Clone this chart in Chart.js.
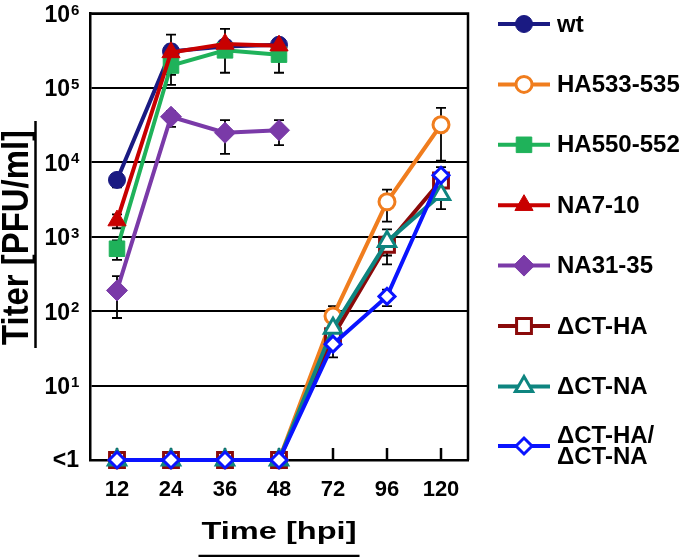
<!DOCTYPE html>
<html>
<head>
<meta charset="utf-8">
<script src="https://cdn.jsdelivr.net/npm/chart.js@4.4.1/dist/chart.umd.min.js"></script>
<style>
  html, body { margin: 0; padding: 0; background: #fff; }
  #wrap { width: 680px; height: 557px; }
</style>
</head>
<body>
<div id="wrap"><canvas id="titer"></canvas></div>
<script>
// Time points (hpi), shown as evenly spaced categories
const hours = ['12', '24', '36', '48', '72', '96', '120'];

// y ticks: "<1" is plotted at 1
const yTickValues = [1, 10, 100, 1000, 10000, 100000, 1000000];
const yTickLabels = [['<1', ''], ['10', '1'], ['10', '2'], ['10', '3'], ['10', '4'], ['10', '5'], ['10', '6']];

const seriesNames = ['wt', 'HA533-535', 'HA550-552', 'NA7-10', 'NA31-35', 'ΔCT-HA', 'ΔCT-NA', 'ΔCT-HA/\nΔCT-NA'];

// Titers (PFU/ml)
const wt      = [5800, 310000, 360000, 380000, null, null, null];
const ha533   = [1, 1, 1, 1, 86, 2950, 32000];
const ha550   = [690, 200000, 320000, 280000, null, null, null];
const na7     = [1650, 300000, 390000, 370000, null, null, null];
const na31    = [190, 41000, 25000, 27000, null, null, null];
const ctHA    = [1, 1, 1, 1, 46, 780, 5700];
const ctNA    = [1, 1, 1, 1, 59, 860, 3700];
const ctHANA  = [1, 1, 1, 1, 36, 158, 6700];

// Error bar ends (upper / lower), null = no bar
const wtHi     = [7000, 520000, 440000, 430000, null, null, null];
const wtLo     = [4600, 110000, 280000, 330000, null, null, null];
const ha533Hi  = [null, null, null, null, 117, 4300, 54000];
const ha533Lo  = [null, null, null, null, 55, 1600, 10500];
const ha550Hi  = [890, 260000, 380000, 330000, null, null, null];
const ha550Lo  = [490, 150000, 260000, 160000, null, null, null];
const na7Hi    = [2000, 380000, 620000, 420000, null, null, null];
const na7Lo    = [1300, 220000, 160000, 320000, null, null, null];
const na31Hi   = [295, 49000, 37000, 37000, null, null, null];
const na31Lo   = [81, 30000, 13000, 17000, null, null, null];
const ctHAHi   = [null, null, null, null, 60, 1000, 6700];
const ctHALo   = [null, null, null, null, 35, 560, 4700];
const ctNAHi   = [null, null, null, null, 75, 1260, 5000];
const ctNALo   = [null, null, null, null, 45, 425, 2350];
const ctHANAHi = [null, null, null, null, 48, 195, 8600];
const ctHANALo = [null, null, null, null, 24, 117, 4800];

const FONT = "'Liberation Sans', Arial, sans-serif";

const styles = [
  { color: '#1a1a82', fill: '#1a1a82', point: 'circle', r: 8.5, bw: 1 },
  { color: '#f07d1e', fill: '#ffffff', point: 'circle', r: 8, bw: 3 },
  { color: '#1fb25a', fill: '#1fb25a', point: 'rect', r: 11, bw: 1 },
  { color: '#c80000', fill: '#c80000', point: 'triangle', r: 10.5, bw: 1 },
  { color: '#7a3aa8', fill: '#7a3aa8', point: 'rectRot', r: 10.5, bw: 1 },
  { color: '#8a0a0a', fill: '#ffffff', point: 'rect', r: 10.5, bw: 3 },
  { color: '#0e8580', fill: '#ffffff', point: 'triangle', r: 10, bw: 3 },
  { color: '#0a14ff', fill: '#ffffff', point: 'rectRot', r: 8, bw: 3 }
];

const values = [wt, ha533, ha550, na7, na31, ctHA, ctNA, ctHANA];
const highs = [wtHi, ha533Hi, ha550Hi, na7Hi, na31Hi, ctHAHi, ctNAHi, ctHANAHi];
const lows = [wtLo, ha533Lo, ha550Lo, na7Lo, na31Lo, ctHALo, ctNALo, ctHANALo];

const datasets = values.map((v, i) => ({
  label: seriesNames[i],
  data: v,
  errHi: highs[i],
  errLo: lows[i],
  borderColor: styles[i].color,
  backgroundColor: styles[i].color,
  borderWidth: 4,
  pointStyle: styles[i].point,
  pointRadius: styles[i].r,
  pointHoverRadius: styles[i].r,
  pointBackgroundColor: styles[i].fill,
  pointBorderColor: styles[i].color,
  pointBorderWidth: styles[i].bw,
  tension: 0,
  spanGaps: false,
  clip: false,
  order: values.length - i
}));

const decorations = {
  id: 'decorations',
  beforeDatasetsDraw(chart) {
    const { ctx, chartArea: a, scales: { x, y } } = chart;
    ctx.save();
    ctx.strokeStyle = '#000';
    // inner tick marks on the time axis
    ctx.lineWidth = 2.5;
    hours.forEach((h, i) => {
      const px = x.getPixelForValue(i);
      ctx.beginPath();
      ctx.moveTo(px, a.bottom);
      ctx.lineTo(px, a.bottom - 12);
      ctx.stroke();
    });
    // error bars
    ctx.lineWidth = 1.8;
    chart.data.datasets.forEach(ds => {
      ds.data.forEach((v, i) => {
        const hi = ds.errHi[i], lo = ds.errLo[i];
        if (v == null || hi == null) return;
        const px = x.getPixelForValue(i);
        const yh = y.getPixelForValue(hi), yl = y.getPixelForValue(lo);
        ctx.beginPath();
        ctx.moveTo(px, yh); ctx.lineTo(px, yl);
        ctx.moveTo(px - 5, yh); ctx.lineTo(px + 5, yh);
        ctx.moveTo(px - 5, yl); ctx.lineTo(px + 5, yl);
        ctx.stroke();
      });
    });
    ctx.restore();
  },
  afterDraw(chart) {
    const { ctx, chartArea: a, scales: { y } } = chart;
    ctx.save();
    // box top and right
    ctx.strokeStyle = '#000';
    ctx.lineWidth = 2.5;
    ctx.beginPath();
    ctx.moveTo(a.left, a.top);
    ctx.lineTo(a.right, a.top);
    ctx.lineTo(a.right, a.bottom);
    ctx.stroke();

    // y tick labels with superscripts
    ctx.fillStyle = '#000';
    yTickValues.forEach((v, i) => {
      const py = Math.max(y.getPixelForValue(v) + 2, 12);
      const [base, sup] = yTickLabels[i];
      ctx.textBaseline = 'middle';
      ctx.font = 'bold 23px ' + FONT;
      ctx.textAlign = 'right';
      if (!sup) {
        ctx.fillText(base, 79, py - 1);
        return;
      }
      ctx.fillText(base, 70, py);
      ctx.font = 'bold 15px ' + FONT;
      ctx.textAlign = 'left';
      ctx.textBaseline = 'alphabetic';
      ctx.fillText(sup, 71, py - 1);
    });

    // x title, underlined
    ctx.font = 'bold 24px ' + FONT;
    ctx.textAlign = 'center';
    ctx.textBaseline = 'alphabetic';
    const xt = 'Time [hpi]';
    const xw = 155;
    const xc = (a.left + a.right) / 2;
    ctx.save();
    ctx.translate(xc, 539);
    ctx.scale(xw / ctx.measureText(xt).width, 1);
    ctx.fillText(xt, 0, 0);
    ctx.restore();
    ctx.lineWidth = 2.5;
    ctx.beginPath();
    ctx.moveTo(xc - xw / 2 - 3, 556);
    ctx.lineTo(xc + xw / 2 + 3, 556);
    ctx.stroke();

    // y title, underlined
    ctx.font = 'bold 36px ' + FONT;
    const yt = 'Titer [PFU/ml]';
    const yw = 215;
    const yc = 237.5;
    ctx.save();
    ctx.translate(28, yc);
    ctx.rotate(-Math.PI / 2);
    ctx.scale(yw / ctx.measureText(yt).width, 1);
    ctx.fillText(yt, 0, 0);
    ctx.restore();
    ctx.beginPath();
    ctx.moveTo(35.5, yc - yw / 2 - 9);
    ctx.lineTo(35.5, yc + yw / 2 + 3);
    ctx.stroke();

    // legend
    chart.data.datasets.forEach((ds, i) => {
      const ly = i < 7 ? 24 + i * 60.4 : 446;
      ctx.strokeStyle = ds.borderColor;
      ctx.lineWidth = 4;
      ctx.beginPath();
      ctx.moveTo(498, ly);
      ctx.lineTo(550, ly);
      ctx.stroke();
      ctx.fillStyle = ds.pointBackgroundColor;
      ctx.lineWidth = ds.pointBorderWidth;
      Chart.helpers.drawPoint(ctx, { pointStyle: ds.pointStyle, radius: ds.pointRadius, borderWidth: ds.pointBorderWidth, rotation: 0 }, 524, ly);
      ctx.fillStyle = '#000';
      ctx.font = 'bold 24px ' + FONT;
      ctx.textAlign = 'left';
      ctx.textBaseline = 'middle';
      const lines = ds.label.split('\n');
      lines.forEach((t, k) => {
        const ty = ly + 1 + (k - (lines.length - 1) / 2) * 21;
        ctx.fillText(t, 557, ty);
      });
    });
    ctx.restore();
  }
};

new Chart(document.getElementById('titer'), {
  type: 'line',
  data: { labels: hours, datasets },
  options: {
    responsive: true,
    maintainAspectRatio: false,
    animation: false,
    layout: { padding: { top: 9, right: 212, left: 0, bottom: 0 } },
    plugins: {
      legend: { display: false },
      tooltip: { enabled: false }
    },
    scales: {
      x: {
        type: 'category',
        offset: true,
        afterFit: s => { s.height = 97; },
        grid: { display: false, drawTicks: false },
        border: { display: true, color: '#000', width: 2.5 },
        ticks: {
          color: '#000',
          padding: 17,
          maxRotation: 0,
          font: { family: FONT, size: 22, weight: 'bold' }
        }
      },
      y: {
        type: 'logarithmic',
        min: 1,
        max: 1000000,
        afterFit: s => { s.width = 90; },
        afterBuildTicks: s => { s.ticks = yTickValues.map(v => ({ value: v })); },
        grid: { color: '#000', lineWidth: 2, drawTicks: false },
        border: { display: true, color: '#000', width: 2.5 },
        ticks: { display: false }
      }
    }
  },
  plugins: [decorations]
});
</script>
</body>
</html>
